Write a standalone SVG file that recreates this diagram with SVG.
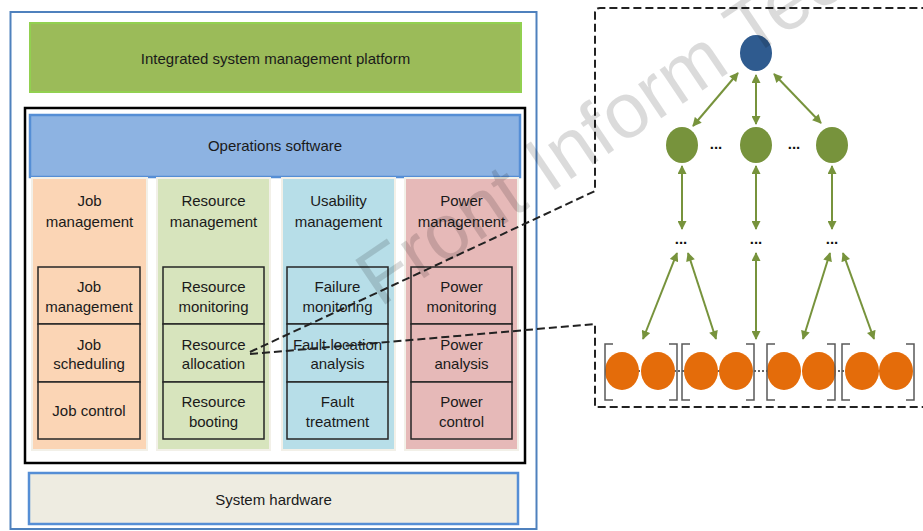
<svg xmlns="http://www.w3.org/2000/svg" width="923" height="531" viewBox="0 0 923 531">
<defs>
<style>
text{font-family:"Liberation Sans",Arial,sans-serif;font-size:15px;fill:#1a1a1a;text-anchor:middle}
.inner{stroke:#262626;stroke-width:1.5}
.col{stroke:#F2F0E8;stroke-width:2}
.garrow{stroke:#77933C;stroke-width:2;fill:none;marker-start:url(#ah);marker-end:url(#ah)}
.dash{stroke:#222;stroke-width:2;fill:none;stroke-dasharray:8 4}
.brk{stroke:#595959;stroke-width:1.5;fill:none}
.orange{fill:#E46C0A}
.green{fill:#77933C}
.dots{font-weight:bold;font-size:15px;fill:#111}
</style>
<marker id="ah" viewBox="0 0 10 10" refX="9" refY="5" markerWidth="10" markerHeight="9" markerUnits="userSpaceOnUse" orient="auto-start-reverse">
<path d="M0,0 L10,5 L0,10 Z" fill="#77933C"/>
</marker>
</defs>

<g id="outer"><rect x="10.5" y="12" width="526" height="517" fill="#fff" stroke="#4F81BD" stroke-width="2"/></g>

<g id="platform">
<rect x="30" y="23" width="491" height="69" fill="#9BBB59" stroke="#92D050" stroke-width="2"/>
<text x="275.5" y="64">Integrated system management platform</text>
</g>

<g id="software-frame"><rect x="25" y="108" width="500" height="355" fill="#fff" stroke="#000" stroke-width="2.5"/></g>

<g id="operations">
<rect x="30" y="115" width="490" height="62" fill="#8DB3E2" stroke="#558ED5" stroke-width="2.5"/>
<text x="275" y="151">Operations software</text>
</g>

<g id="job-col">
<rect class="col" x="32" y="178" width="115" height="272" fill="#FBD5B5"/>
<text x="89.5" y="206">Job</text><text x="89.5" y="227">management</text>
<rect class="inner" x="38" y="267" width="102" height="57" fill="#FBD5B5"/>
<rect class="inner" x="38" y="324" width="102" height="58" fill="#FBD5B5"/>
<rect class="inner" x="38" y="382" width="102" height="57" fill="#FBD5B5"/>
<text x="89" y="292">Job</text><text x="89" y="312">management</text>
<text x="89" y="350">Job</text><text x="89" y="369">scheduling</text>
<text x="89" y="416">Job control</text>
</g>

<g id="resource-col">
<rect class="col" x="157" y="178" width="113" height="272" fill="#D7E4BD"/>
<text x="213.5" y="206">Resource</text><text x="213.5" y="227">management</text>
<rect class="inner" x="163" y="267" width="101" height="57" fill="#D7E4BD"/>
<rect class="inner" x="163" y="324" width="101" height="58" fill="#D7E4BD"/>
<rect class="inner" x="163" y="382" width="101" height="57" fill="#D7E4BD"/>
<text x="213.5" y="292">Resource</text><text x="213.5" y="312">monitoring</text>
<text x="213.5" y="350">Resource</text><text x="213.5" y="369">allocation</text>
<text x="213.5" y="407">Resource</text><text x="213.5" y="427">booting</text>
</g>

<g id="usability-col">
<rect class="col" x="282" y="178" width="113" height="272" fill="#B7DEE8"/>
<text x="338.5" y="206">Usability</text><text x="338.5" y="227">management</text>
<rect class="inner" x="287" y="267" width="101" height="57" fill="#B7DEE8"/>
<rect class="inner" x="287" y="324" width="101" height="58" fill="#B7DEE8"/>
<rect class="inner" x="287" y="382" width="101" height="57" fill="#B7DEE8"/>
<text x="337.5" y="292">Failure</text><text x="337.5" y="312">monitoring</text>
<text x="337.5" y="350">Fault location</text><text x="337.5" y="369">analysis</text>
<text x="337.5" y="407">Fault</text><text x="337.5" y="427">treatment</text>
</g>

<g id="power-col">
<rect class="col" x="405" y="178" width="113" height="272" fill="#E6B9B8"/>
<text x="461.5" y="206">Power</text><text x="461.5" y="227">management</text>
<rect class="inner" x="411" y="267" width="101" height="57" fill="#E6B9B8"/>
<rect class="inner" x="411" y="324" width="101" height="58" fill="#E6B9B8"/>
<rect class="inner" x="411" y="382" width="101" height="57" fill="#E6B9B8"/>
<text x="461.5" y="292">Power</text><text x="461.5" y="312">monitoring</text>
<text x="461.5" y="350">Power</text><text x="461.5" y="369">analysis</text>
<text x="461.5" y="407">Power</text><text x="461.5" y="427">control</text>
</g>

<g id="hardware">
<rect x="29" y="473" width="489" height="51" fill="#EEECE1" stroke="#558ED5" stroke-width="2.5"/>
<text x="273.5" y="505">System hardware</text>
</g>

<g id="root-node"><ellipse cx="756" cy="53" rx="16" ry="18" fill="#2F5B8F"/></g>
<g id="mid-nodes">
<ellipse class="green" cx="682" cy="145" rx="16" ry="18"/>
<ellipse class="green" cx="756" cy="145" rx="16" ry="18"/>
<ellipse class="green" cx="832" cy="145" rx="16" ry="18"/>
<text class="dots" x="716" y="149">...</text>
<text class="dots" x="794" y="149">...</text>
<text class="dots" x="681" y="244">...</text>
<text class="dots" x="756" y="244">...</text>
<text class="dots" x="832" y="244">...</text>
</g>
<g id="leaf-nodes">
<line x1="622" y1="371" x2="896" y2="371" stroke="#333" stroke-width="1.5" stroke-dasharray="2 2"/>
<ellipse class="orange" cx="622" cy="371" rx="17" ry="19"/>
<ellipse class="orange" cx="658" cy="371" rx="17" ry="19"/>
<ellipse class="orange" cx="701" cy="371" rx="17" ry="19"/>
<ellipse class="orange" cx="736" cy="371" rx="17" ry="19"/>
<ellipse class="orange" cx="784" cy="371" rx="17" ry="19"/>
<ellipse class="orange" cx="819" cy="371" rx="17" ry="19"/>
<ellipse class="orange" cx="862" cy="371" rx="17" ry="19"/>
<ellipse class="orange" cx="896" cy="371" rx="17" ry="19"/>
<path class="brk" d="M613 344H605V400H613 M669 344H677V400H669"/>
<path class="brk" d="M690 344H682V400H690 M746 344H754V400H746"/>
<path class="brk" d="M775 344H767V400H775 M827 344H835V400H827"/>
<path class="brk" d="M850 344H842V400H850 M906 344H914V400H906"/>
</g>

<g id="connectors">
<line class="garrow" x1="738" y1="73" x2="693" y2="126"/>
<line class="garrow" x1="756" y1="75" x2="756" y2="124"/>
<line class="garrow" x1="774" y1="74" x2="821" y2="123"/>
<line class="garrow" x1="682" y1="166" x2="682" y2="229"/>
<line class="garrow" x1="756" y1="166" x2="756" y2="229"/>
<line class="garrow" x1="832" y1="166" x2="832" y2="229"/>
<line class="garrow" x1="677" y1="253" x2="643" y2="339"/>
<line class="garrow" x1="688" y1="253" x2="716" y2="339"/>
<line class="garrow" x1="756" y1="253" x2="756" y2="339"/>
<line class="garrow" x1="830" y1="253" x2="803" y2="339"/>
<line class="garrow" x1="843" y1="253" x2="874" y2="339"/>
<path class="dash" d="M250 352 L595 191 V13 Q595 8 600 8 H935"/>
<path class="dash" d="M250 354 L595 324 V407 H935"/>
</g>

<g id="watermark">
<text x="0" y="0" transform="translate(380,308) rotate(-34)" style="font-size:78px;fill:#000;fill-opacity:0.14;text-anchor:start">Front Inform Tec</text>
</g>
</svg>
